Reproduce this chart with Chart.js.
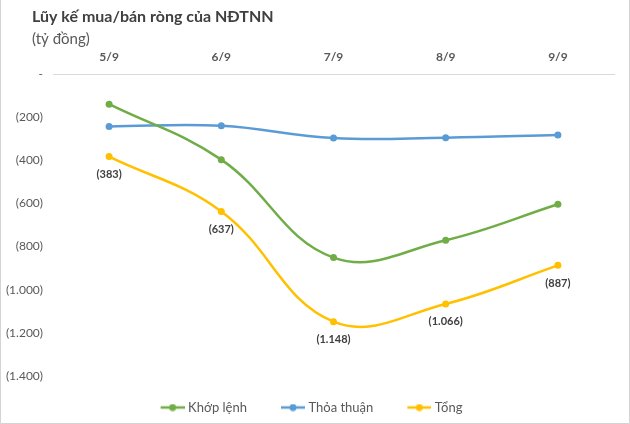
<!DOCTYPE html>
<html lang="vi">
  <head>
    <meta charset="UTF-8" />
    <title>Lũy kế mua/bán ròng của NĐTNN</title>
    <script src="https://cdn.jsdelivr.net/npm/chart.js"></script>
    <style>
      * {
        margin: 0;
        padding: 0;
        box-sizing: border-box;
      }
      body {
        background: #ffffff;
      }
      #chartBox {
        width: 630px;
        height: 424px;
        position: relative;
      }
    </style>
  </head>
  <body>
    <div id="chartBox">
      <canvas id="netChart"></canvas>
    </div>
    <script>
      // Dates (x categories)
      const dates = ["5/9", "6/9", "7/9", "8/9", "9/9"];

      // Net buy/sell, billion VND
      const khopLenh = [-140, -397, -851, -771, -604];
      const thoaThuan = [-243, -240, -297, -295, -283];
      const tong = [-383, -637, -1148, -1066, -887];

      // y axis range
      const yMin = -1400;
      const yMax = 0;
      const yStep = 200;

      const green = "#70ad47";
      const blue = "#5b9bd5";
      const yellow = "#ffc000";
      const textGray = "#595959";
      const font = "Lato, 'Open Sans', sans-serif";

      // (1.148) style numbers
      function fmt(v) {
        if (v === 0) return "-";
        const s = Math.abs(v).toString().replace(/\B(?=(\d{3})+(?!\d))/g, ".");
        return v < 0 ? "(" + s + ")" : s;
      }

      // little line + dot for the legend (left part left empty on purpose)
      function legendIcon(color) {
        const c = document.createElement("canvas");
        c.width = 36;
        c.height = 8;
        const g = c.getContext("2d");
        g.strokeStyle = color;
        g.lineWidth = 2.5;
        g.beginPath();
        g.moveTo(12, 4);
        g.lineTo(36, 4);
        g.stroke();
        g.fillStyle = color;
        g.beginPath();
        g.arc(24, 4, 3.5, 0, Math.PI * 2);
        g.fill();
        return c;
      }

      const headerPlugin = {
        id: "header",
        beforeDraw(chart) {
          const ctx = chart.ctx;
          ctx.save();
          ctx.fillStyle = "#ffffff";
          ctx.fillRect(0, 0, chart.width, chart.height);
          ctx.strokeStyle = "#d4d4d4";
          ctx.lineWidth = 1;
          ctx.beginPath();
          ctx.moveTo(0.5, 0);
          ctx.lineTo(0.5, chart.height - 0.5);
          ctx.lineTo(chart.width - 0.5, chart.height - 0.5);
          ctx.lineTo(chart.width - 0.5, 0);
          ctx.stroke();
          ctx.textBaseline = "middle";
          ctx.textAlign = "left";
          ctx.fillStyle = "#404040";
          ctx.font = "bold 16px " + font;
          ctx.fillText("Lũy kế mua/bán ròng của NĐTNN", 32, 17);
          ctx.fillStyle = textGray;
          ctx.font = "15px " + font;
          ctx.fillText("(tỷ đồng)", 32, 39);
          ctx.restore();
        },
      };

      const totalLabels = {
        id: "totalLabels",
        afterDatasetsDraw(chart) {
          const ctx = chart.ctx;
          const meta = chart.getDatasetMeta(2);
          ctx.save();
          ctx.font = "bold 11px " + font;
          ctx.fillStyle = "#404040";
          ctx.textAlign = "center";
          ctx.textBaseline = "middle";
          meta.data.forEach((pt, i) => {
            ctx.fillText(fmt(tong[i]), pt.x, pt.y + 18);
          });
          ctx.restore();
        },
      };

      function line(label, data, color) {
        return {
          label: label,
          data: data,
          borderColor: color,
          backgroundColor: color,
          borderWidth: 2.5,
          pointRadius: 3.5,
          pointHoverRadius: 3.5,
          pointBackgroundColor: color,
          pointBorderWidth: 0,
          tension: 0.4,
          fill: false,
        };
      }

      new Chart(document.getElementById("netChart"), {
        type: "line",
        data: {
          labels: dates,
          datasets: [
            line("Khớp lệnh", khopLenh, green),
            line("Thỏa thuận", thoaThuan, blue),
            line("Tổng", tong, yellow),
          ],
        },
        options: {
          responsive: true,
          maintainAspectRatio: false,
          animation: false,
          layout: {
            padding: { left: 0, right: 16, top: 44, bottom: 0 },
          },
          plugins: {
            legend: {
              position: "bottom",
              maxHeight: 53,
              labels: {
                usePointStyle: true,
                pointStyleWidth: 30,
                color: textGray,
                padding: 25,
                font: { family: font, size: 13 },
                generateLabels(chart) {
                  return chart.data.datasets.map((ds, i) => ({
                    text: ds.label,
                    pointStyle: legendIcon(ds.borderColor),
                    fontColor: textGray,
                    strokeStyle: ds.borderColor,
                    fillStyle: ds.borderColor,
                    lineWidth: 0,
                    datasetIndex: i,
                    hidden: false,
                  }));
                },
              },
            },
            tooltip: { enabled: false },
          },
          scales: {
            x: {
              position: "top",
              offset: true,
              grid: { display: false, drawTicks: false },
              border: { display: true, color: "#d9d9d9", width: 1 },
              ticks: {
                color: textGray,
                padding: 10,
                font: { family: font, size: 12, weight: "bold" },
              },
              afterFit(scale) {
                scale.height = 30;
              },
            },
            y: {
              min: yMin,
              max: yMax,
              grid: { display: false, drawTicks: false },
              border: { display: false },
              ticks: {
                stepSize: yStep,
                color: textGray,
                padding: 10,
                font: { family: font, size: 12 },
                callback: (v) => fmt(v),
              },
              afterFit(scale) {
                scale.width = 53;
              },
            },
          },
        },
        plugins: [headerPlugin, totalLabels],
      });
    </script>
  </body>
</html>
